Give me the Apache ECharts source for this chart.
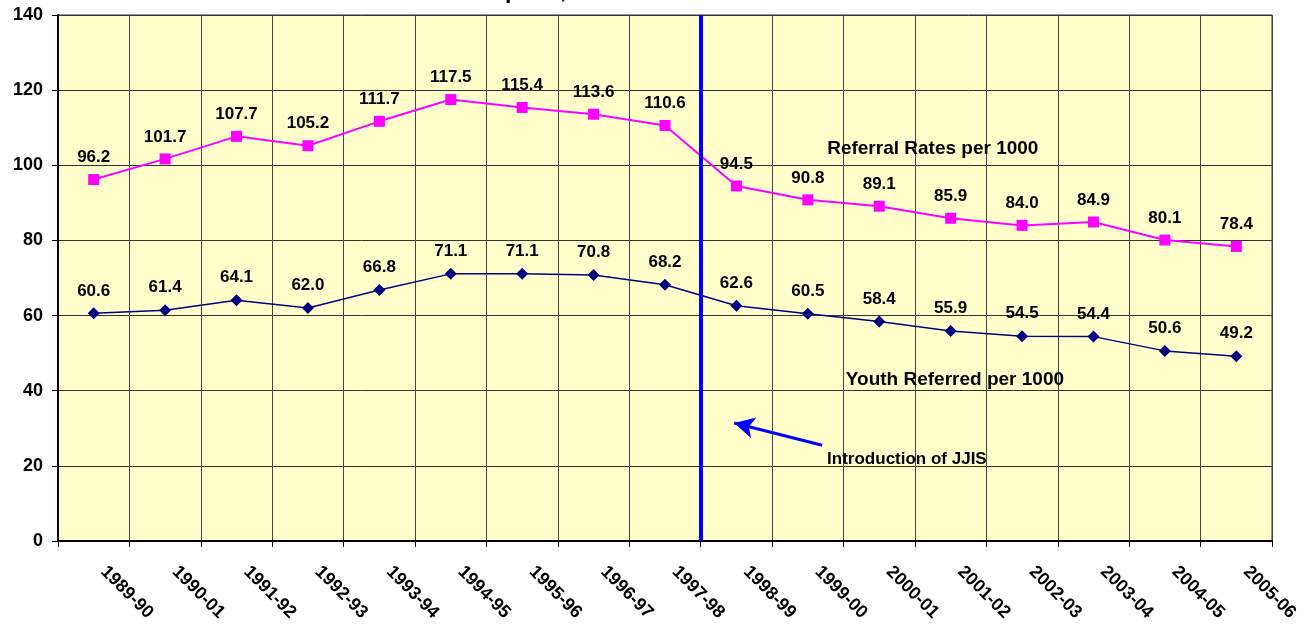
<!DOCTYPE html>
<html>
<head>
<meta charset="utf-8">
<script src="https://cdn.jsdelivr.net/npm/echarts@6/dist/echarts.min.js"></script>
<style>
  html, body { margin: 0; padding: 0; background: #fff; }
  #chart { width: 1309px; height: 627px; }
</style>
</head>
<body>
<div id="chart"></div>
<script>
// school years on the x axis
var years = ['1989-90', '1990-01', '1991-92', '1992-93', '1993-94', '1994-95', '1995-96',
  '1996-97', '1997-98', '1998-99', '1999-00', '2000-01', '2001-02', '2002-03', '2003-04',
  '2004-05', '2005-06'];
// referrals per 1000 youth
var referralRates = [96.2, 101.7, 107.7, 105.2, 111.7, 117.5, 115.4, 113.6, 110.6,
  94.5, 90.8, 89.1, 85.9, 84.0, 84.9, 80.1, 78.4];
// youth referred per 1000
var youthReferred = [60.6, 61.4, 64.1, 62.0, 66.8, 71.1, 71.1, 70.8, 68.2,
  62.6, 60.5, 58.4, 55.9, 54.5, 54.4, 50.6, 49.2];
// JJIS was introduced between 1997-98 and 1998-99 (boundary index)
var jjisBoundary = 9;

var font = '"Liberation Sans", Arial, sans-serif';
var myChart = echarts.init(document.getElementById('chart'));

var lbl = {
  show: true,
  position: 'top',
  distance: 8,
  color: '#000',
  fontFamily: font,
  fontWeight: 'bold',
  fontSize: 17,
  formatter: function (p) { return p.value.toFixed(1); }
};

myChart.setOption({
  animation: false,
  backgroundColor: '#fff',
  graphic: [{
    type: 'text',
    left: 505,
    top: -20,
    style: {
      text: 'per 1,000 Youth at Risk',
      font: 'bold 23px ' + font,
      fill: '#000'
    }
  }],
  grid: {
    left: 58, right: 37, top: 15, bottom: 86,
    show: true,
    backgroundColor: '#FFFFCC',
    borderColor: '#333',
    borderWidth: 1
  },
  xAxis: [{
    type: 'category',
    data: years,
    boundaryGap: true,
    axisLine: { lineStyle: { color: '#000', width: 2 } },
    axisTick: { show: true, interval: 0, length: 6, lineStyle: { color: '#000' } },
    axisLabel: {
      interval: 0,
      rotate: -45,
      margin: 18,
      padding: [0, 0, 0, 14],
      color: '#000',
      fontFamily: font,
      fontWeight: 'bold',
      fontSize: 18
    },
    splitLine: { show: true, interval: 0, lineStyle: { color: '#444', width: 1 } }
  }, {
    type: 'value',
    min: 0,
    max: years.length,
    show: false
  }],
  yAxis: {
    type: 'value',
    min: 0,
    max: 140,
    interval: 20,
    axisLine: { show: true, lineStyle: { color: '#000', width: 2 } },
    axisTick: { show: true, length: 6, lineStyle: { color: '#000' } },
    axisLabel: {
      margin: 15,
      color: '#000',
      fontFamily: font,
      fontWeight: 'bold',
      fontSize: 18
    },
    splitLine: { show: true, lineStyle: { color: '#333', width: 1 } }
  },
  series: [{
    name: 'Referral Rates per 1000',
    type: 'line',
    data: referralRates,
    symbol: 'rect',
    symbolSize: 11,
    itemStyle: { color: '#FF00FF' },
    lineStyle: { color: '#FF00FF', width: 2 },
    label: lbl,
    z: 3
  }, {
    name: 'Youth Referred per 1000',
    type: 'line',
    data: youthReferred,
    symbol: 'diamond',
    symbolSize: 12,
    itemStyle: { color: '#000080' },
    lineStyle: { color: '#000080', width: 1.5 },
    label: lbl,
    z: 3
  }, {
    name: 'annotations',
    type: 'line',
    xAxisIndex: 1,
    data: [],
    markLine: {
      silent: true,
      symbol: 'none',
      label: { show: false },
      lineStyle: { color: '#0000FF', width: 4, type: 'solid' },
      data: [{ xAxis: jjisBoundary }]
    },
    z: 4
  }, {
    name: 'arrow',
    type: 'line',
    xAxisIndex: 1,
    data: [],
    markLine: {
      silent: true,
      symbol: ['none', 'arrow'],
      symbolSize: [16, 20],
      label: { show: false },
      lineStyle: { color: '#0000FF', width: 3, type: 'solid' },
      data: [[{ coord: [10.7, 25.5] }, { coord: [9.47, 31.4] }]]
    },
    markPoint: {
      silent: true,
      symbol: 'circle',
      symbolSize: 1,
      itemStyle: { color: 'rgba(0,0,0,0)' },
      label: {
        show: true,
        position: 'inside',
        color: '#000',
        fontFamily: font,
        fontWeight: 'bold',
        fontSize: 19
      },
      data: [
        { coord: [12.25, 104.3], value: 'Referral Rates per 1000', label: { formatter: 'Referral Rates per 1000' } },
        { coord: [12.56, 42.9], value: 'Youth Referred per 1000', label: { formatter: 'Youth Referred per 1000' } },
        { coord: [10.77, 21.8], value: 'Introduction of JJIS', label: { formatter: 'Introduction of JJIS', align: 'left', fontSize: 17 } }
      ]
    },
    z: 4
  }]
});
</script>
</body>
</html>
